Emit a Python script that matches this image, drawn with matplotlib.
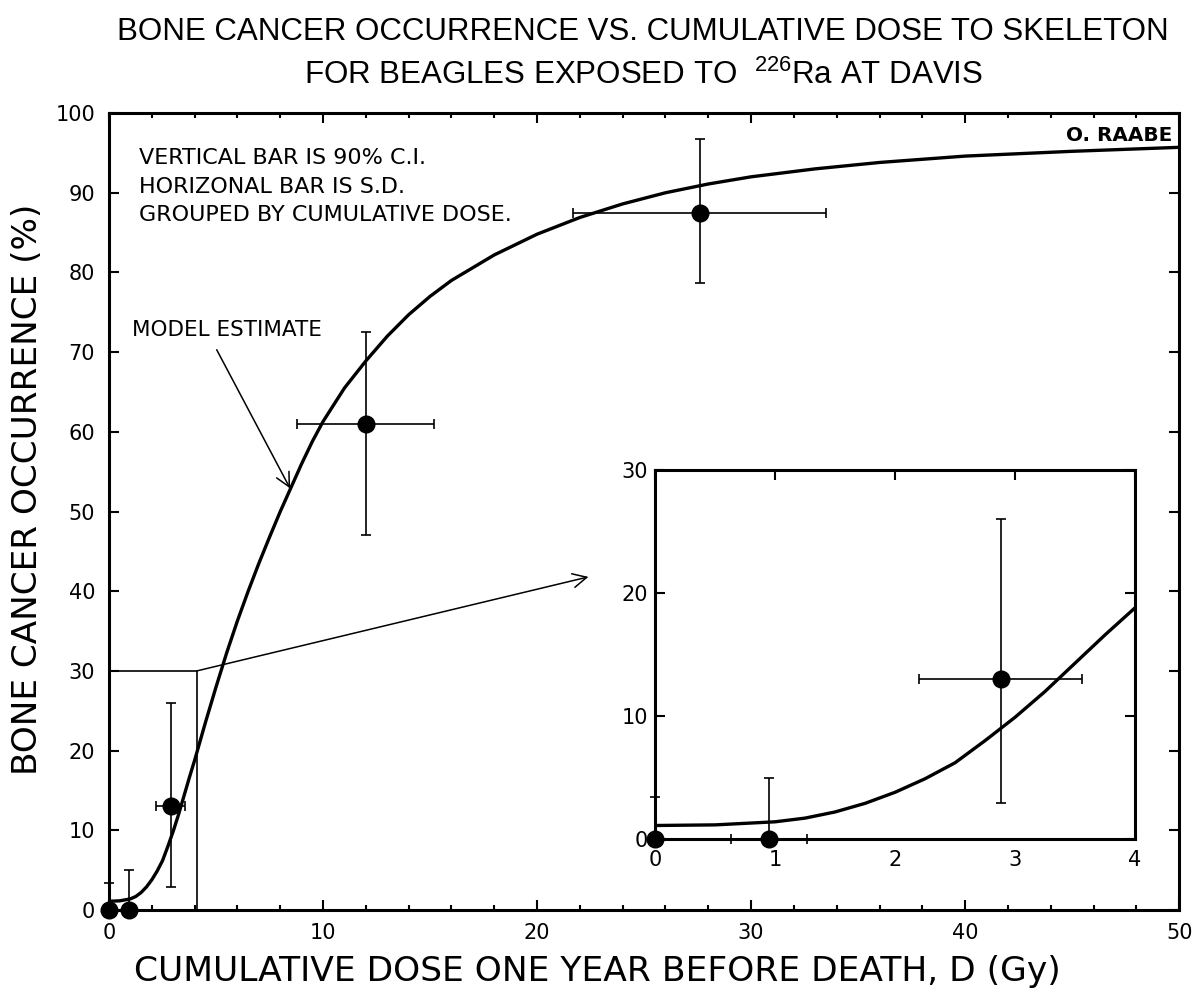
import matplotlib
matplotlib.use("Agg")
import matplotlib.pyplot as plt
from matplotlib.ticker import MultipleLocator

# grouped data (dose in Gy, occurrence in %)
dose = [0.0, 0.95, 2.88, 12.0, 27.6]
dose_sd = [0.0, 0.32, 0.68, 3.2, 5.9]
occurrence = [0.0, 0.0, 13.0, 61.0, 87.5]
ci_low = [0.0, 0.0, 2.9, 47.0, 78.7]
ci_high = [3.4, 5.0, 26.0, 72.5, 96.8]

# model estimate
model_dose = [0, 0.5, 1, 1.25, 1.5, 1.75, 2, 2.25, 2.5, 2.75, 3, 3.25, 3.5, 3.75, 4,
              4.5, 5, 5.5, 6, 6.5, 7, 7.5, 8, 8.5, 9, 9.5, 10, 11, 12, 13, 14, 15, 16,
              18, 20, 22, 24, 26, 28, 30, 33, 36, 40, 45, 50]
model_occ = [1.1, 1.15, 1.4, 1.7, 2.2, 2.9, 3.8, 4.9, 6.2, 8.0, 9.9, 12.0, 14.3, 16.6, 18.8,
             23.5, 28.0, 32.3, 36.3, 40.0, 43.5, 46.8, 50.0, 53.0, 56.0, 58.8, 61.3, 65.5,
             68.9, 72.0, 74.7, 77.0, 79.0, 82.2, 84.8, 86.9, 88.6, 90.0, 91.1, 92.0, 93.0,
             93.8, 94.6, 95.2, 95.7]

notes = ["VERTICAL BAR IS 90% C.I.", "HORIZONAL BAR IS S.D.", "GROUPED BY CUMULATIVE DOSE."]

zoom_x, zoom_y = 4.1, 30

title_font = ["Liberation Sans", "DejaVu Sans"]
plt.rcParams.update({
    "font.family": ["DejaVu Sans"],
    "font.size": 15,
    "mathtext.fontset": "custom",
    "mathtext.rm": "Liberation Sans",
})


def draw_points(ax):
    yerr = [[o - lo for o, lo in zip(occurrence, ci_low)],
            [hi - o for o, hi in zip(occurrence, ci_high)]]
    cont = ax.errorbar(dose, occurrence, yerr=yerr, xerr=dose_sd, fmt="o", color="k",
                       ms=12, elinewidth=1.2, capsize=3.6, capthick=1.2, zorder=5)
    for art in cont.get_children():
        art.set_clip_on(False)


def style_ticks(ax, length=7, minor_length=3.6):
    ax.tick_params(which="both", direction="in", top=True, right=True, width=1.5)
    ax.tick_params(which="major", length=length)
    ax.tick_params(which="minor", length=minor_length)
    for sp in ax.spines.values():
        sp.set_linewidth(2.2)


fig = plt.figure(figsize=(12.01, 9.9), dpi=100)
ax = fig.add_axes([0.0908, 0.0808, 0.891, 0.805])

ax.plot(model_dose, model_occ, color="k", lw=2.4)
draw_points(ax)

# zoom box and connector
ax.plot([0, zoom_x, zoom_x], [zoom_y, zoom_y, 0], color="k", lw=1.2)
ax.annotate("", xy=(22.4, 41.8), xytext=(zoom_x, zoom_y),
            arrowprops=dict(arrowstyle="->", lw=1.1, color="k", mutation_scale=25,
                            shrinkA=0, shrinkB=0))

ax.text(1.05, 72.8, "MODEL ESTIMATE", ha="left", va="center", fontsize=15.5)
ax.annotate("", xy=(8.46, 52.9), xytext=(5.03, 70.3),
            arrowprops=dict(arrowstyle="->", lw=1.1, color="k", mutation_scale=25,
                            shrinkA=0, shrinkB=0))

for y, s in zip([94.3, 90.7, 87.2], notes):
    ax.text(1.42, y, s, ha="left", va="center", fontsize=16)

ax.text(0.994, 0.972, "O. RAABE", transform=ax.transAxes, ha="right", va="center",
        fontsize=14.4, fontweight="bold")

ax.set_xlim(0, 50)
ax.set_ylim(0, 100)
ax.xaxis.set_major_locator(MultipleLocator(10))
ax.xaxis.set_minor_locator(MultipleLocator(2))
ax.yaxis.set_major_locator(MultipleLocator(10))
style_ticks(ax)
ax.tick_params(axis="y", pad=10)
ax.tick_params(axis="x", pad=9)

ax.set_xlabel("CUMULATIVE DOSE ONE YEAR BEFORE DEATH, D (Gy)", fontsize=24.8)
ax.set_ylabel("BONE CANCER OCCURRENCE (%)", fontsize=24.7)
ax.xaxis.set_label_coords(0.456, -0.0565)
ax.yaxis.set_label_coords(-0.061, 0.528)

# inset
axi = fig.add_axes([0.5454, 0.1525, 0.3997, 0.3727])
axi.plot(model_dose, model_occ, color="k", lw=2.4)
draw_points(axi)
axi.set_xlim(0, 4)
axi.set_ylim(0, 30)
axi.xaxis.set_major_locator(MultipleLocator(1))
axi.yaxis.set_major_locator(MultipleLocator(10))
style_ticks(axi)
axi.tick_params(axis="x", bottom=False, pad=8)
axi.tick_params(axis="y", pad=5)

fig.text(0.5355, 0.9677, "BONE CANCER OCCURRENCE VS. CUMULATIVE DOSE TO SKELETON",
         ha="center", va="center", fontsize=22.5, family=title_font)
fig.text(0.5355, 0.924, r"FOR BEAGLES EXPOSED TO  $^{\mathrm{226}}$Ra AT DAVIS",
         ha="center", va="center", fontsize=22.5, family=title_font)

fig.savefig("out.png", dpi=100)
